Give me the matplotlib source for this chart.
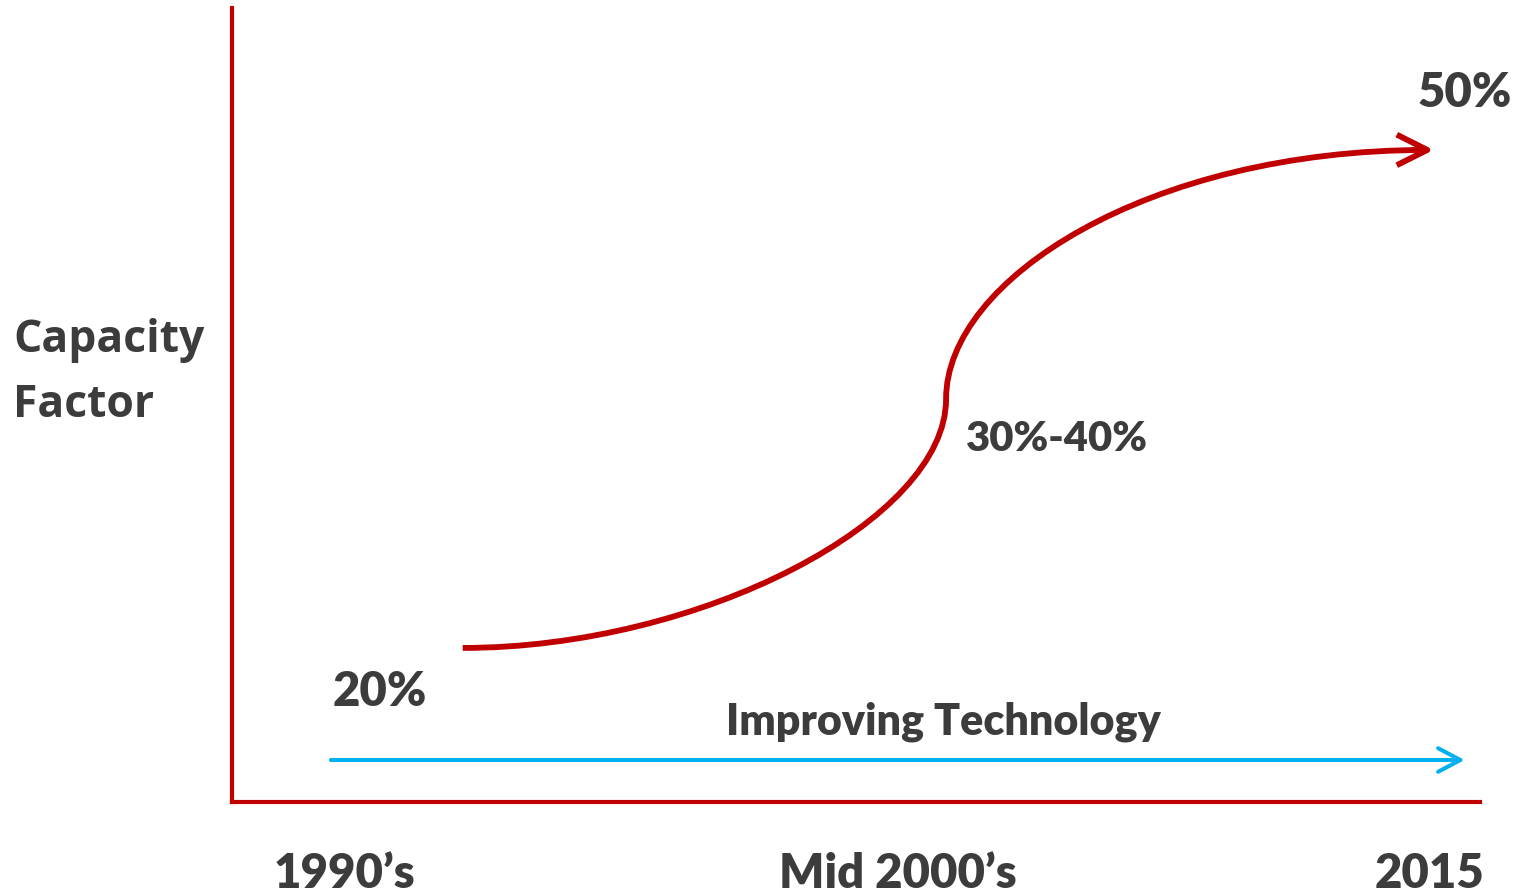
import matplotlib.pyplot as plt
from matplotlib.patches import FancyArrowPatch
from matplotlib.path import Path

plt.rcParams['font.family'] = ['Lato', 'DejaVu Sans']

RED = '#C00000'
BLUE = '#00B0F0'
TEXT = '#3C3C3C'
WEIGHT = 'heavy'

# time axis labels (x in years)
period_pos = [1990.3, 2002.9, 2015.0]
period_labels = ['1990\u2019s', 'Mid 2000\u2019s', '2015']

# capacity factor S-curve, two cubic Bezier segments (year, %)
lower_x = [1993.0, 1998.4, 2004.0, 2004.0]
lower_y = [20.0, 20.0, 27.7, 35.0]
upper_x = [2004.0, 2004.0, 2008.6, 2015.1]
upper_y = [35.0, 42.2, 50.0, 50.0]

# value labels along the curve
cf_labels = ['20%', '30%-40%', '50%']
cf_label_x = [1990.05, 2004.45, 2015.8]
cf_label_y = [17.35, 32.6, 53.4]
cf_label_size = [34, 30, 34]

# technology arrow
tech_x = [1990.0, 2015.8]
tech_y = 13.25

fig = plt.figure(figsize=(15.21, 8.92), dpi=100)
ax = fig.add_axes([232 / 1521, 90 / 892, 1248 / 1521, 794 / 892])
ax.set_xlim(1987.75, 2016.15)
ax.set_ylim(10.72, 58.55)

for side in ('top', 'right'):
    ax.spines[side].set_visible(False)
for side in ('left', 'bottom'):
    ax.spines[side].set_color(RED)
    ax.spines[side].set_linewidth(3.0)

ax.set_yticks([])
ax.set_xticks(period_pos, period_labels)
ax.tick_params(axis='x', length=0, pad=36, labelsize=34, labelcolor=TEXT)
for lbl in ax.get_xticklabels():
    lbl.set_fontweight(WEIGHT)

# S-curve with open arrow head
verts = list(zip(lower_x, lower_y)) + list(zip(upper_x[1:], upper_y[1:]))
codes = [Path.MOVETO] + [Path.CURVE4] * 6
curve = FancyArrowPatch(path=Path(verts, codes),
                        arrowstyle='->,head_length=22,head_width=11',
                        mutation_scale=1, color=RED, linewidth=4.2,
                        joinstyle='round')
curve.set_capstyle('butt')
ax.add_patch(curve)

tech = FancyArrowPatch((tech_x[0], tech_y), (tech_x[1], tech_y),
                       arrowstyle='->,head_length=16,head_width=8.5',
                       mutation_scale=1, color=BLUE, linewidth=2.9,
                       shrinkA=0, shrinkB=0)
ax.add_patch(tech)

ax.text(tech_x[0] + (tech_x[1] - tech_x[0]) * 0.54, tech_y + 2.3,
        'Improving Technology', ha='center', va='center',
        fontsize=31, fontweight=WEIGHT, color=TEXT)

aligns = ['left', 'left', 'center']
for txt, x, y, ha, fs in zip(cf_labels, cf_label_x, cf_label_y, aligns,
                             cf_label_size):
    ax.text(x, y, txt, ha=ha, va='center', fontsize=fs,
            fontweight=WEIGHT, color=TEXT, clip_on=False)

fig.text(13 / 1521, 1 - 373 / 892, 'Capacity\nFactor', ha='left',
         va='center', fontsize=32, fontweight='bold', color=TEXT,
         family=['Open Sans', 'DejaVu Sans'], linespacing=1.58)

fig.savefig('out.png', dpi=100)
